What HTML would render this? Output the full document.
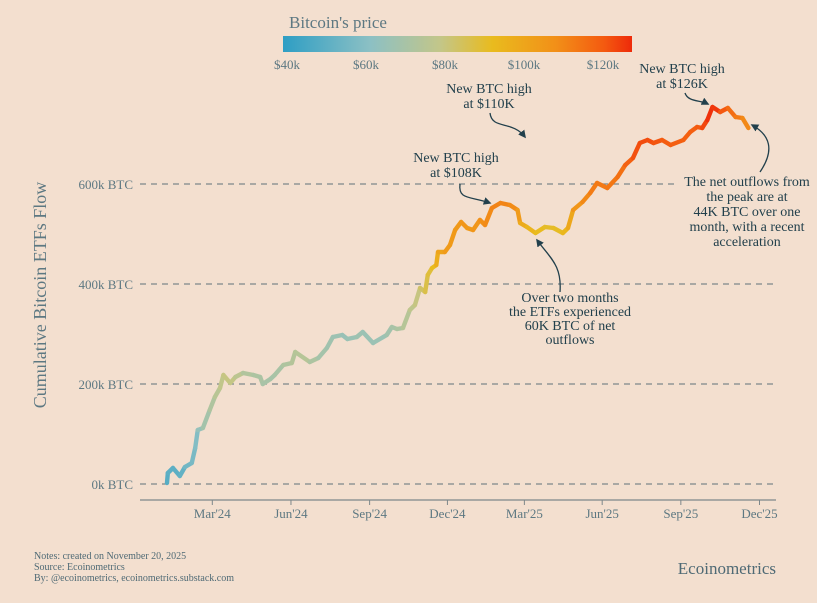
<!DOCTYPE html>
<html><head><meta charset="utf-8">
<style>
body{margin:0;background:#f3dfcf;}
svg{display:block;font-family:"Liberation Serif",serif;}
</style></head>
<body>
<svg id="chart" width="817" height="603" viewBox="0 0 817 603" xmlns="http://www.w3.org/2000/svg">
<defs>
<linearGradient id="cbar" x1="0" x2="1" y1="0" y2="0">
<stop offset="0" stop-color="#2e9ec4"/>
<stop offset="0.25" stop-color="#8cc0c4"/>
<stop offset="0.45" stop-color="#c3c689"/>
<stop offset="0.6" stop-color="#e9bb1e"/>
<stop offset="0.78" stop-color="#f29018"/>
<stop offset="0.92" stop-color="#f45a10"/>
<stop offset="1" stop-color="#ee2a0a"/>
</linearGradient>
<marker id="ah" viewBox="0 0 10 10" refX="8" refY="5" markerWidth="6" markerHeight="6" orient="auto-start-reverse"><path d="M0,0 L10,5 L0,10 z" fill="#22404c"/></marker>
</defs>
<rect width="817" height="603" fill="#f3dfcf"/>
<g id="legend">
<text x="338" y="28" font-size="17" fill="#5d7882" text-anchor="middle">Bitcoin's price</text>
<rect x="283" y="36" width="349" height="16" fill="url(#cbar)"/>
</g>
<g id="grid"></g>
<g id="axes"></g>
<g id="series"></g>
<text transform="translate(46,295) rotate(-90)" font-size="18" fill="#5d7882" text-anchor="middle">Cumulative Bitcoin ETFs Flow</text>
<rect x="676" y="172" width="140" height="72" fill="#f3dfcf"/>
<g fill="#22404c" font-size="14" text-anchor="middle">
<text x="456" y="162"><tspan x="456">New BTC high</tspan><tspan x="456" dy="15">at $108K</tspan></text>
<text x="489" y="93"><tspan x="489">New BTC high</tspan><tspan x="489" dy="15">at $110K</tspan></text>
<text x="682" y="73"><tspan x="682">New BTC high</tspan><tspan x="682" dy="15">at $126K</tspan></text>
<text x="570" y="302"><tspan x="570">Over two months</tspan><tspan x="570" dy="14">the ETFs experienced</tspan><tspan x="570" dy="14">60K BTC of net</tspan><tspan x="570" dy="14">outflows</tspan></text>
<text x="747" y="186"><tspan x="747">The net outflows from</tspan><tspan x="747" dy="15">the peak are at</tspan><tspan x="747" dy="15">44K BTC over one</tspan><tspan x="747" dy="15">month, with a recent</tspan><tspan x="747" dy="15">acceleration</tspan></text>
</g>
<g fill="none" stroke="#22404c" stroke-width="1.3">
<path d="M460,184 C458,200 470,196 490,203" marker-end="url(#ah)"/>
<path d="M490,113 C492,130 512,120 525,137" marker-end="url(#ah)"/>
<path d="M685,93 C688,102 700,100 708,104" marker-end="url(#ah)"/>
<path d="M560,292 C562,265 550,258 537,240" marker-end="url(#ah)"/>
<path d="M760,172 C775,150 770,135 752,125" marker-end="url(#ah)"/>
</g>
<g font-size="10" fill="#4f6a75">
<text x="34" y="559">Notes: created on November 20, 2025</text>
<text x="34" y="570">Source: Ecoinometrics</text>
<text x="34" y="581">By: @ecoinometrics, ecoinometrics.substack.com</text>
</g>
<text x="776" y="574" font-size="17" fill="#4f6a75" text-anchor="end">Ecoinometrics</text>
</svg>
<script>
// days since 2024-01-01
const days = [7,8,14,22,28,36,40,43,49,57,63,69,73,81,87,96,108,116,119,128,133,143,153,157,174,184,194,201,212,218,229,236,248,264,270,276,283,291,297,303,309,312,317,322,324,332,338,344,351,358,365,373,379,387,397,408,417,420,428,438,449,459,470,476,482,493,502,510,522,534,543,552,560,569,576,586,596,611,619,627,633,639,645,654,663,672,680,687];
// cumulative flow, k BTC
const flows = [2,22,32,16,34,42,72,108,112,148,174,192,218,202,214,222,218,214,200,210,218,238,242,264,244,252,272,294,298,290,294,304,282,298,314,310,312,348,358,392,384,418,432,438,464,464,478,508,524,512,508,528,518,552,562,558,548,522,514,502,514,512,502,512,548,564,582,602,592,614,638,652,682,688,682,688,678,688,704,714,712,728,754,744,752,734,732,712];
// BTC price, k USD
const prices = [46,47,48,47,50,52,52,55,60,63,66,68,71,71,70,66,64,64,63,62,62,64,65,67,66,62,61,60,59,58,60,60,58,60,62,63,65,68,70,72,78,80,82,88,92,95,97,96,98,98,96,100,100,103,104,102,100,92,89,86,84,83,85,88,96,100,104,107,106,108,110,116,118,118,117,115,114,113,113,114,116,122,125,119,112,108,104,100];
const yTicks = [0,200,400,600];
const yTickLabels = ["0k BTC","200k BTC","400k BTC","600k BTC"];
const xTickDays = [60,152,244,335,425,516,608,700];
const xTickLabels = ["Mar'24","Jun'24","Sep'24","Dec'24","Mar'25","Jun'25","Sep'25","Dec'25"];
const legendTicks = [40,60,80,100,120];

const NS="http://www.w3.org/2000/svg";
const x = d => 161 + d*0.855;
const y = v => 484 - v*0.5;
const lx = p => 287 + (p-40)*3.95;
function mk(tag, attrs, parent){const e=document.createElementNS(NS,tag);for(const k in attrs)e.setAttribute(k,attrs[k]);parent.appendChild(e);return e;}
const stops=[[40,[46,158,196]],[55,[140,192,196]],[70,[195,198,137]],[85,[233,187,30]],[100,[242,144,24]],[115,[244,90,16]],[125,[238,42,10]]];
function color(p){
  if(p<=stops[0][0])return `rgb(${stops[0][1]})`;
  for(let i=1;i<stops.length;i++){if(p<=stops[i][0]){const t=(p-stops[i-1][0])/(stops[i][0]-stops[i-1][0]);const a=stops[i-1][1],b=stops[i][1];return `rgb(${a.map((c,j)=>Math.round(c+(b[j]-c)*t)).join(',')})`;}}
  return `rgb(${stops[stops.length-1][1]})`;
}
const grid=document.getElementById('grid'), axes=document.getElementById('axes'), series=document.getElementById('series'), legend=document.getElementById('legend');
yTicks.forEach((v,i)=>{
  const l=mk('line',{x1:140,x2:776,y1:y(v),y2:y(v),stroke:'#7d878a','stroke-width':1.2,'stroke-dasharray':'6,5'},grid);
  
  
  const t=mk('text',{x:133,y:y(v)+5,'text-anchor':'end','font-size':13,fill:'#5d7882'},axes);
  t.textContent=yTickLabels[i];
  
  
});
const ax=mk('line',{x1:140,x2:776,y1:500,y2:500,stroke:'#7d878a','stroke-width':1.2},axes);


xTickDays.forEach((d,i)=>{
  const tk=mk('line',{x1:x(d),x2:x(d),y1:500,y2:505,stroke:'#7d878a'},axes);
  
  
  const t=mk('text',{x:x(d),y:518,'text-anchor':'middle','font-size':13,fill:'#5d7882'},axes);
  t.textContent=xTickLabels[i];
  
  
});
legendTicks.forEach(p=>{
  const t=mk('text',{x:lx(p),y:69,'text-anchor':'middle','font-size':13,fill:'#5d7882'},legend);
  t.textContent='$'+p+'k';
  
  
});
for(let i=0;i<days.length-1;i++){
  const s=mk('line',{x1:x(days[i]),y1:y(flows[i]),x2:x(days[i+1]),y2:y(flows[i+1]),stroke:color((prices[i]+prices[i+1])/2),'stroke-width':4.4,'stroke-linecap':'round'},series);
  
  
}
</script>
</body></html>
